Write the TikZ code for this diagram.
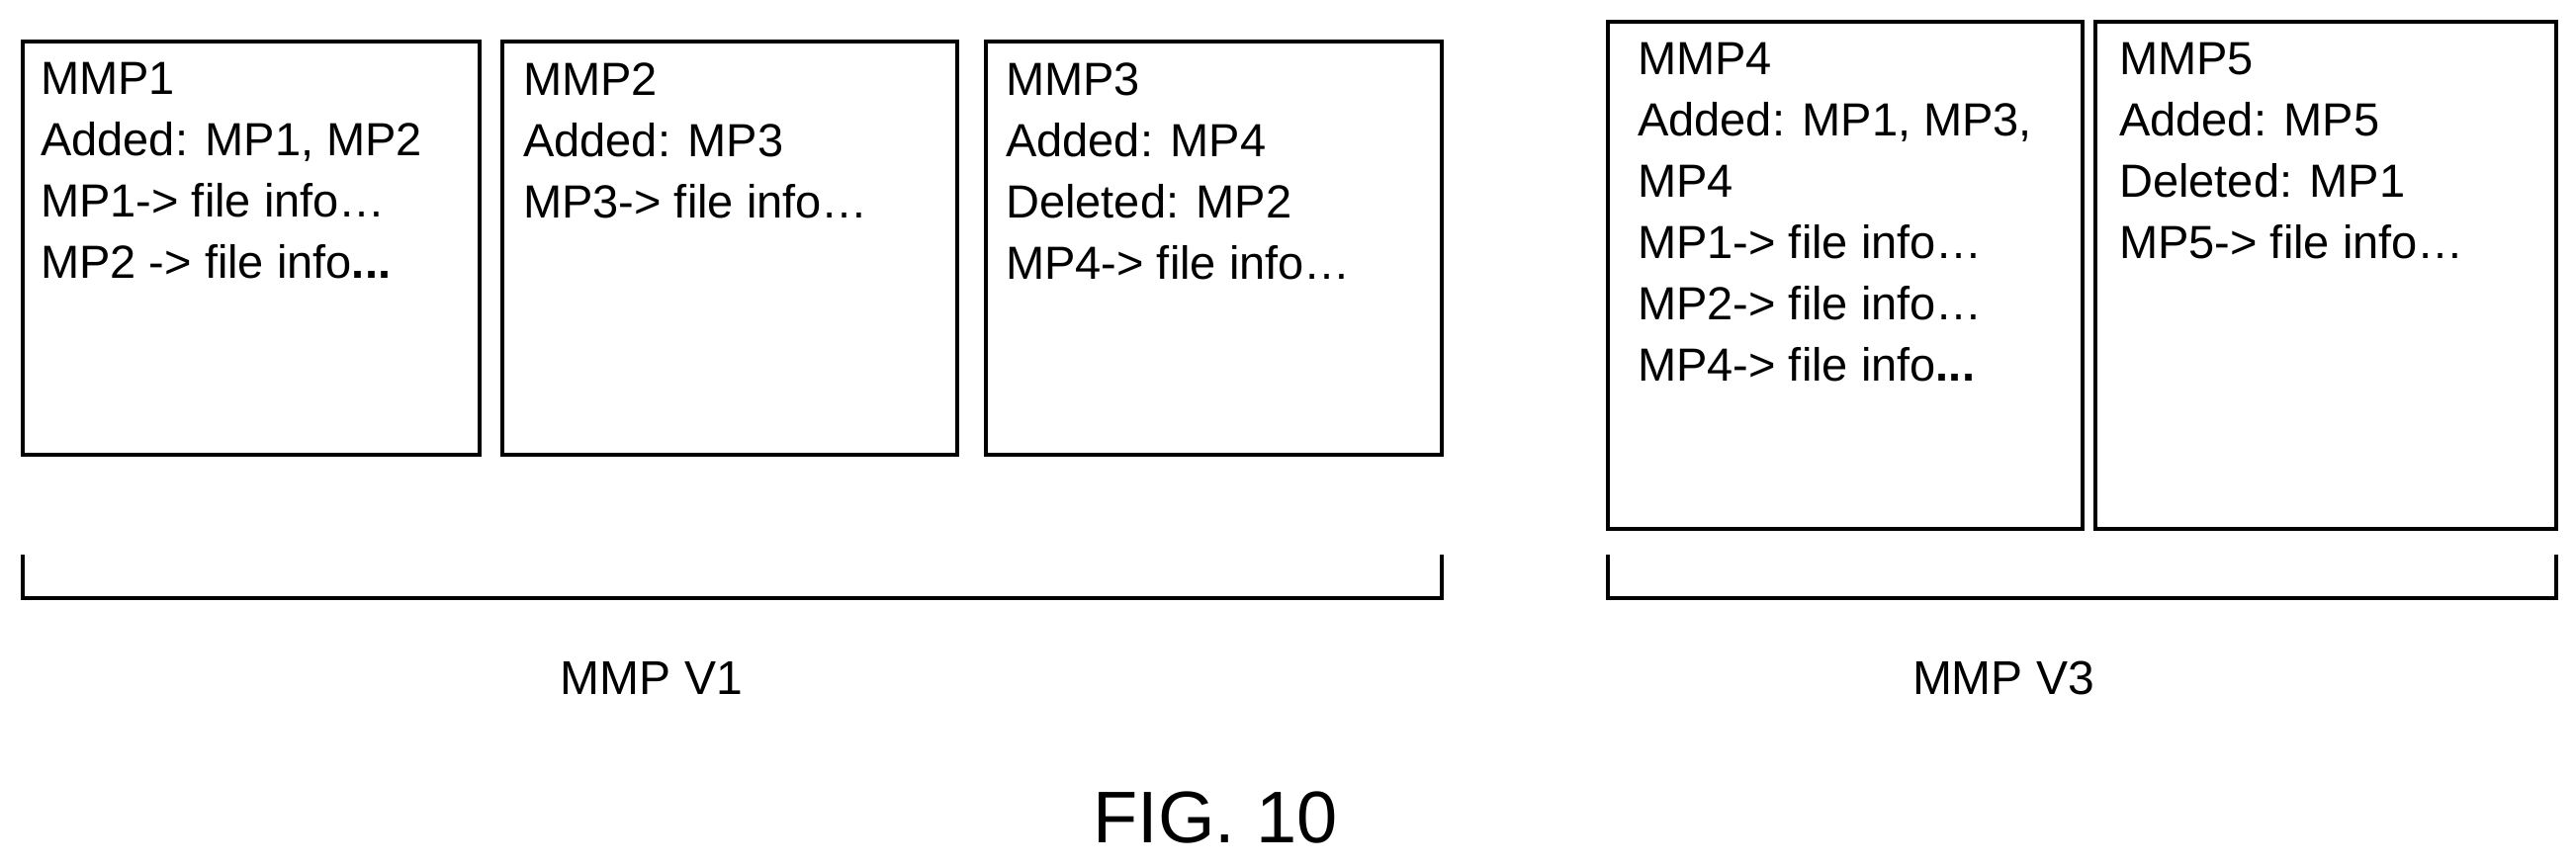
\documentclass[tikz,border=0pt]{standalone}
\usepackage{fontspec}
\setmainfont{Liberation Sans}
\begin{document}
\begin{tikzpicture}[x=1pt,y=-1pt,
  box/.style={draw,line width=4pt},
  txt/.style={anchor=north west,align=left,inner sep=0pt,font=\fontsize{47}{62}\selectfont},
  br/.style={line width=4pt}]
\useasboundingbox (0,0) rectangle (2605,877);
\draw[box] (23,42) rectangle (485,460);
\draw[box] (508,42) rectangle (968,460);
\draw[box] (997,42) rectangle (1458,460);
\draw[box] (1626,22) rectangle (2106,535);
\draw[box] (2119,22) rectangle (2585,535);
\node[txt] (t1) at (41,63) {MMP1\\Added: MP1, MP2\\MP1-> file info…\\MP2 -> file info\textbf{...}};
\node[txt] (t2) at (529,63) {MMP2\\Added: MP3\\MP3-> file info…};
\node[txt] (t3) at (1017,63) {MMP3\\Added: MP4\\Deleted: MP2\\MP4-> file info…};
\node[txt] (t4) at (1656,43) {MMP4\\Added: MP1, MP3,\\MP4\\MP1-> file info…\\MP2-> file info…\\MP4-> file info\textbf{...}};
\node[txt] (t5) at (2143,43) {MMP5\\Added: MP5\\Deleted: MP1\\MP5-> file info…};
\coordinate (a1) at (23,561); \coordinate (a2) at (1458,561);
\coordinate (c1) at (1626,561); \coordinate (c2) at (2585,561);
\draw[br] (a1) -- ++(0,44) -| (a2);
\draw[br] (c1) -- ++(0,44) -| (c2);
\node[font=\fontsize{48}{56}\selectfont] (v1) at (659,686) {MMP V1};
\node[font=\fontsize{48}{56}\selectfont] (v3) at (2026,686) {MMP V3};
\node[font=\fontsize{74}{90}\selectfont] (fig) at (1229,827) {FIG. 10};
\end{tikzpicture}
\end{document}
